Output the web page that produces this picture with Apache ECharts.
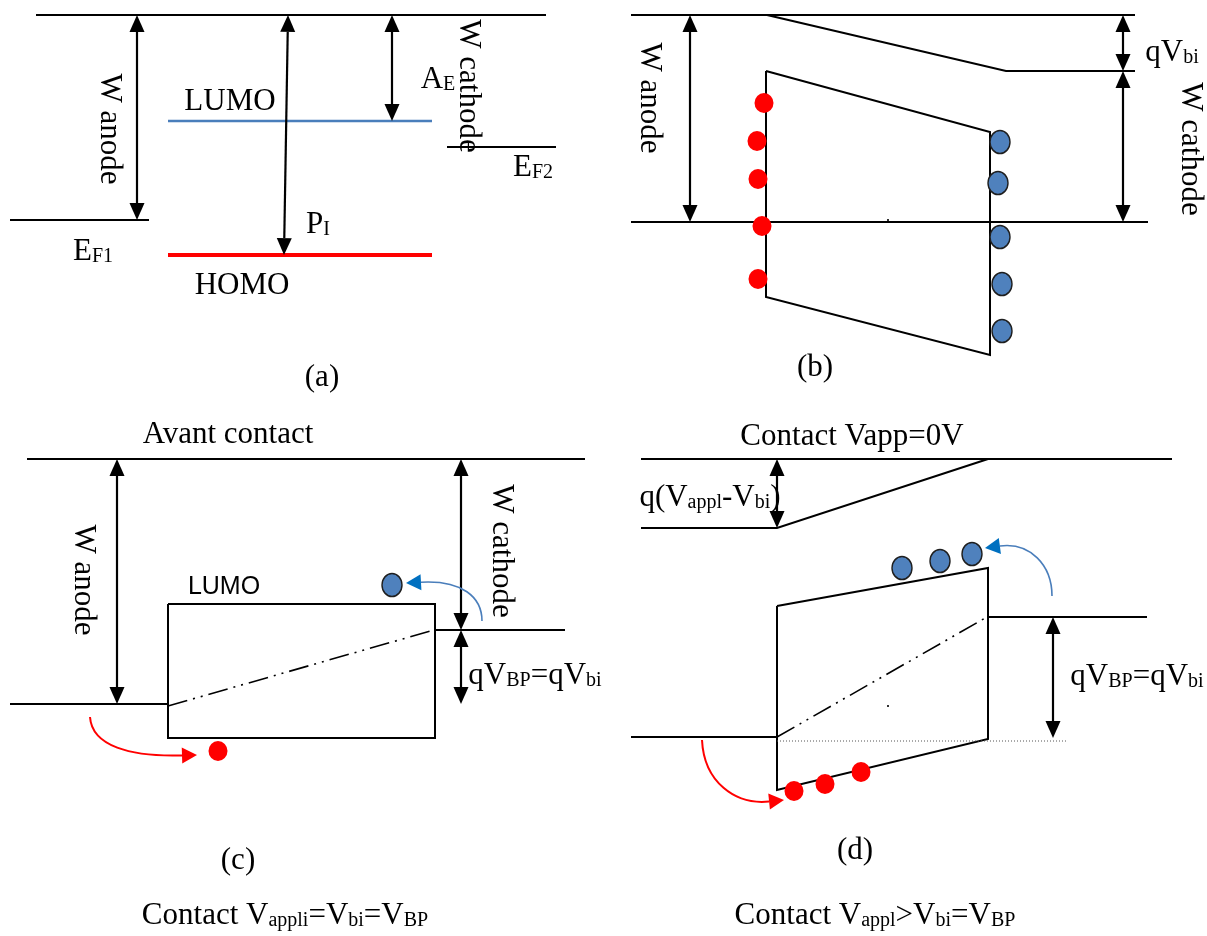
<!DOCTYPE html>
<html>
<head>
<meta charset="utf-8">
<title>Diagrammes de bandes</title>
<script src="https://cdn.jsdelivr.net/npm/echarts@6/dist/echarts.min.js"></script>
<style>
  html, body { margin: 0; padding: 0; background: #ffffff; }
  #chart { width: 1207px; height: 936px; }
</style>
</head>
<body>
<div id="chart"></div>
<script>
// Diagram units: x to the right, y downward (the y axis is inverted).

// Vacuum levels, Fermi levels and band edges, as flat [x1, y1, x2, y2, ...] polylines
const edgeLines = [
  [36, 15, 546, 15],                                   // (a) vacuum level
  [10, 220, 149, 220],                                 // (a) E_F1
  [447, 147, 556, 147],                                // (a) E_F2
  [631, 15, 1135, 15],                                 // (b) vacuum level, anode side
  [767, 15, 1006, 71, 1135, 71],                       // (b) vacuum level bent by V_bi
  [631, 222, 1148, 222],                               // (b) common Fermi level
  [766, 71, 990, 132, 990, 355, 766, 297, 766, 71],    // (b) tilted organic layer
  [27, 459, 585, 459],                                 // (c) vacuum level
  [10, 704, 168, 704],                                 // (c) anode Fermi level
  [168, 604, 435, 604, 435, 738, 168, 738, 168, 604],  // (c) flat organic layer
  [435, 630, 565, 630],                                // (c) cathode Fermi level
  [641, 459, 1172, 459],                               // (d) vacuum level
  [641, 528, 777, 528, 988, 459],                      // (d) vacuum level under bias
  [777, 606, 988, 568, 988, 739, 777, 790, 777, 606],  // (d) reversed tilt of the layer
  [988, 617, 1147, 617],                               // (d) cathode Fermi level
  [631, 737, 777, 737]                                 // (d) anode Fermi level
];

// Molecular orbitals of panel (a)
const lumoLevel = [[168, 121, 432, 121]];
const homoLevel = [[168, 255, 432, 255]];

// Potential drop inside the layer (dash-dot-dot) and the reference level of (d)
const potentialLines = [[168, 706, 434, 630], [777, 737, 987, 617]];
const referenceLines = [[777, 741, 1066, 741]];

// Double-headed energy arrows [x1, y1, x2, y2]
const gapArrows = [
  [137, 15, 137, 220], [288, 15, 284, 255], [392, 15, 392, 121],
  [690, 15, 690, 222], [1123, 15, 1123, 71], [1123, 71, 1123, 222],
  [117, 459, 117, 704], [461, 459, 461, 630], [461, 630, 461, 704],
  [777, 459, 777, 528], [1053, 617, 1053, 738]
];

// Injection paths: start, two control points, arrow tip
const electronPaths = [
  [482, 621, 482, 597, 462, 580, 406, 583],
  [1052, 596, 1052, 565, 1030, 542, 985, 548]
];
const holePaths = [
  [90, 717, 92, 746, 130, 757, 197, 755],
  [702, 740, 704, 782, 735, 805, 784, 800]
];

// Charges
const holes = [
  [764, 103], [757, 141], [758, 179], [762, 226], [758, 279],
  [218, 751],
  [794, 791], [825, 784], [861, 772]
];
const electrons = [
  [1000, 142], [998, 183], [1000, 237], [1002, 284], [1002, 331],
  [392, 585],
  [902, 568], [940, 561], [972, 554]
];
const specks = [[888, 220], [888, 706]];

// Labels: text (X_{sub} marks a subscript), anchor x, anchor y, vertical flag
const labelTexts = [
  'W anode', 'LUMO', 'HOMO', 'E_{F1}', 'P_{I}', 'A_{E}', 'W cathode', 'E_{F2}', '(a)',
  'W anode', 'qV_{bi}', 'W cathode', '(b)',
  'Avant contact', 'W anode', 'W cathode', 'LUMO', 'qV_{BP}=qV_{bi}', '(c)',
  'Contact V_{appli}=V_{bi}=V_{BP}',
  'Contact Vapp=0V', 'q(V_{appl}-V_{bi})', 'qV_{BP}=qV_{bi}', '(d)',
  'Contact V_{appl}>V_{bi}=V_{BP}'
];
const labelX = [
  112, 230, 242, 93, 318, 438, 471, 533, 322,
  652, 1172, 1193, 815,
  228, 86, 504, 224, 535, 238,
  285,
  852, 710, 1137, 855,
  875
];
const labelY = [
  129, 99, 283, 249, 222, 77, 86, 165, 375,
  98, 50, 149, 365,
  432, 580, 551, 582, 673, 858,
  913,
  434, 495, 674, 848,
  913
];
const labelVertical = [
  1, 0, 0, 0, 0, 0, 1, 0, 0,
  1, 0, 1, 0,
  0, 1, 1, 0, 0, 0,
  0,
  0, 0, 0, 0,
  0
];
const sansLabels = [16]; // the LUMO of panel (c) is set in a sans-serif face

const SERIF = '"Liberation Serif", "Times New Roman", serif';
const SANS = '"Liberation Sans", Arial, sans-serif';

function toPoints(api, flat) {
  const out = [];
  for (let i = 0; i < flat.length; i += 2) out.push(api.coord([flat[i], flat[i + 1]]));
  return out;
}

function headPoints(tip, from, len, half) {
  const dx = tip[0] - from[0], dy = tip[1] - from[1];
  const d = Math.hypot(dx, dy) || 1;
  const ux = dx / d, uy = dy / d;
  const bx = tip[0] - ux * len, by = tip[1] - uy * len;
  return { base: [bx, by], pts: [[tip[0], tip[1]], [bx - uy * half, by + ux * half], [bx + uy * half, by - ux * half]] };
}

function polylineSeries(name, src, style) {
  return {
    type: 'custom', name, coordinateSystem: 'cartesian2d', silent: true, z: 2,
    data: src.map(s => [s[0], s[1]]),
    renderItem(params, api) {
      return {
        type: 'polyline',
        shape: { points: toPoints(api, src[params.dataIndex]) },
        style: Object.assign({ fill: 'none', lineJoin: 'miter' }, style)
      };
    }
  };
}

function arrowSeries(name, src) {
  return {
    type: 'custom', name, coordinateSystem: 'cartesian2d', silent: true, z: 3,
    data: src.map(s => [s[0], s[1]]),
    renderItem(params, api) {
      const s = src[params.dataIndex];
      const p1 = api.coord([s[0], s[1]]), p2 = api.coord([s[2], s[3]]);
      const h1 = headPoints(p1, p2, 17, 7.5), h2 = headPoints(p2, p1, 17, 7.5);
      return {
        type: 'group',
        children: [
          { type: 'line', shape: { x1: h1.base[0], y1: h1.base[1], x2: h2.base[0], y2: h2.base[1] },
            style: { stroke: '#000', lineWidth: 2.2 } },
          { type: 'polygon', shape: { points: h1.pts }, style: { fill: '#000' } },
          { type: 'polygon', shape: { points: h2.pts }, style: { fill: '#000' } }
        ]
      };
    }
  };
}

function curveSeries(name, src, lineColor, headColor, width) {
  return {
    type: 'custom', name, coordinateSystem: 'cartesian2d', silent: true, z: 3,
    data: src.map(s => [s[0], s[1]]),
    renderItem(params, api) {
      const p = toPoints(api, src[params.dataIndex]);
      const h = headPoints(p[3], p[2], 15, 8);
      return {
        type: 'group',
        children: [
          { type: 'bezierCurve',
            shape: { x1: p[0][0], y1: p[0][1], cpx1: p[1][0], cpy1: p[1][1],
                     cpx2: p[2][0], cpy2: p[2][1], x2: h.base[0], y2: h.base[1] },
            style: { stroke: lineColor, lineWidth: width, fill: 'none' } },
          { type: 'polygon', shape: { points: h.pts }, style: { fill: headColor } }
        ]
      };
    }
  };
}

function toRich(text, mainKey) {
  let out = '';
  const re = /_\{([^}]*)\}/g;
  let last = 0, m;
  while ((m = re.exec(text)) !== null) {
    if (m.index > last) out += '{' + mainKey + '|' + text.slice(last, m.index) + '}';
    out += '{s|' + m[1] + '}';
    last = re.lastIndex;
  }
  if (last < text.length) out += '{' + mainKey + '|' + text.slice(last) + '}';
  return out;
}

const richStyles = {
  m: { fontFamily: SERIF, fontSize: 31, lineHeight: 36, verticalAlign: 'bottom', fill: '#000' },
  s: { fontFamily: SERIF, fontSize: 20, lineHeight: 22, verticalAlign: 'bottom', fill: '#000' },
  ss: { fontFamily: SANS, fontSize: 25, lineHeight: 36, verticalAlign: 'bottom', fill: '#000' }
};

const labelSeries = {
  type: 'custom', name: 'labels', coordinateSystem: 'cartesian2d', silent: true, z: 4,
  data: labelX.map((x, i) => [x, labelY[i]]),
  renderItem(params, api) {
    const i = params.dataIndex;
    const p = api.coord([api.value(0), api.value(1)]);
    const key = sansLabels.indexOf(i) >= 0 ? 'ss' : 'm';
    return {
      type: 'text',
      x: p[0], y: p[1],
      rotation: labelVertical[i] ? -Math.PI / 2 : 0,
      style: {
        text: toRich(labelTexts[i], key),
        rich: richStyles,
        fontFamily: SERIF, fontSize: 31,
        align: 'center', verticalAlign: 'middle',
        fill: '#000'
      }
    };
  }
};

const chart = echarts.init(document.getElementById('chart'), null, { renderer: 'canvas' });
chart.setOption({
  animation: false,
  backgroundColor: '#ffffff',
  grid: { left: 0, right: 0, top: 0, bottom: 0 },
  xAxis: { type: 'value', min: 0, max: 1207, show: false },
  yAxis: { type: 'value', min: 0, max: 936, inverse: true, show: false },
  tooltip: { show: false },
  series: [
    polylineSeries('edges', edgeLines, { stroke: '#000', lineWidth: 2 }),
    polylineSeries('LUMO', lumoLevel, { stroke: '#4a7ebb', lineWidth: 2.5 }),
    polylineSeries('HOMO', homoLevel, { stroke: '#ff0000', lineWidth: 4 }),
    polylineSeries('potential', potentialLines, { stroke: '#000', lineWidth: 1.6, lineDash: [20, 6, 2, 6, 2, 6] }),
    polylineSeries('reference', referenceLines, { stroke: '#555', lineWidth: 1, lineDash: [1, 2] }),
    arrowSeries('gaps', gapArrows),
    curveSeries('electron injection', electronPaths, '#4a7ebb', '#0070c0', 1.6),
    curveSeries('hole injection', holePaths, '#ff0000', '#ff0000', 2),
    {
      type: 'scatter', name: 'holes', silent: true, z: 5,
      symbol: 'circle', symbolSize: [19, 20],
      itemStyle: { color: '#ff0000', opacity: 1 },
      data: holes
    },
    {
      type: 'scatter', name: 'electrons', silent: true, z: 5,
      symbol: 'circle', symbolSize: [20, 23],
      itemStyle: { color: '#4f81bd', borderColor: '#1f1f1f', borderWidth: 1.5, opacity: 1 },
      data: electrons
    },
    {
      type: 'scatter', name: 'specks', silent: true, z: 5,
      symbol: 'rect', symbolSize: 2,
      itemStyle: { color: '#000' },
      data: specks
    },
    labelSeries
  ]
});
</script>
</body>
</html>
